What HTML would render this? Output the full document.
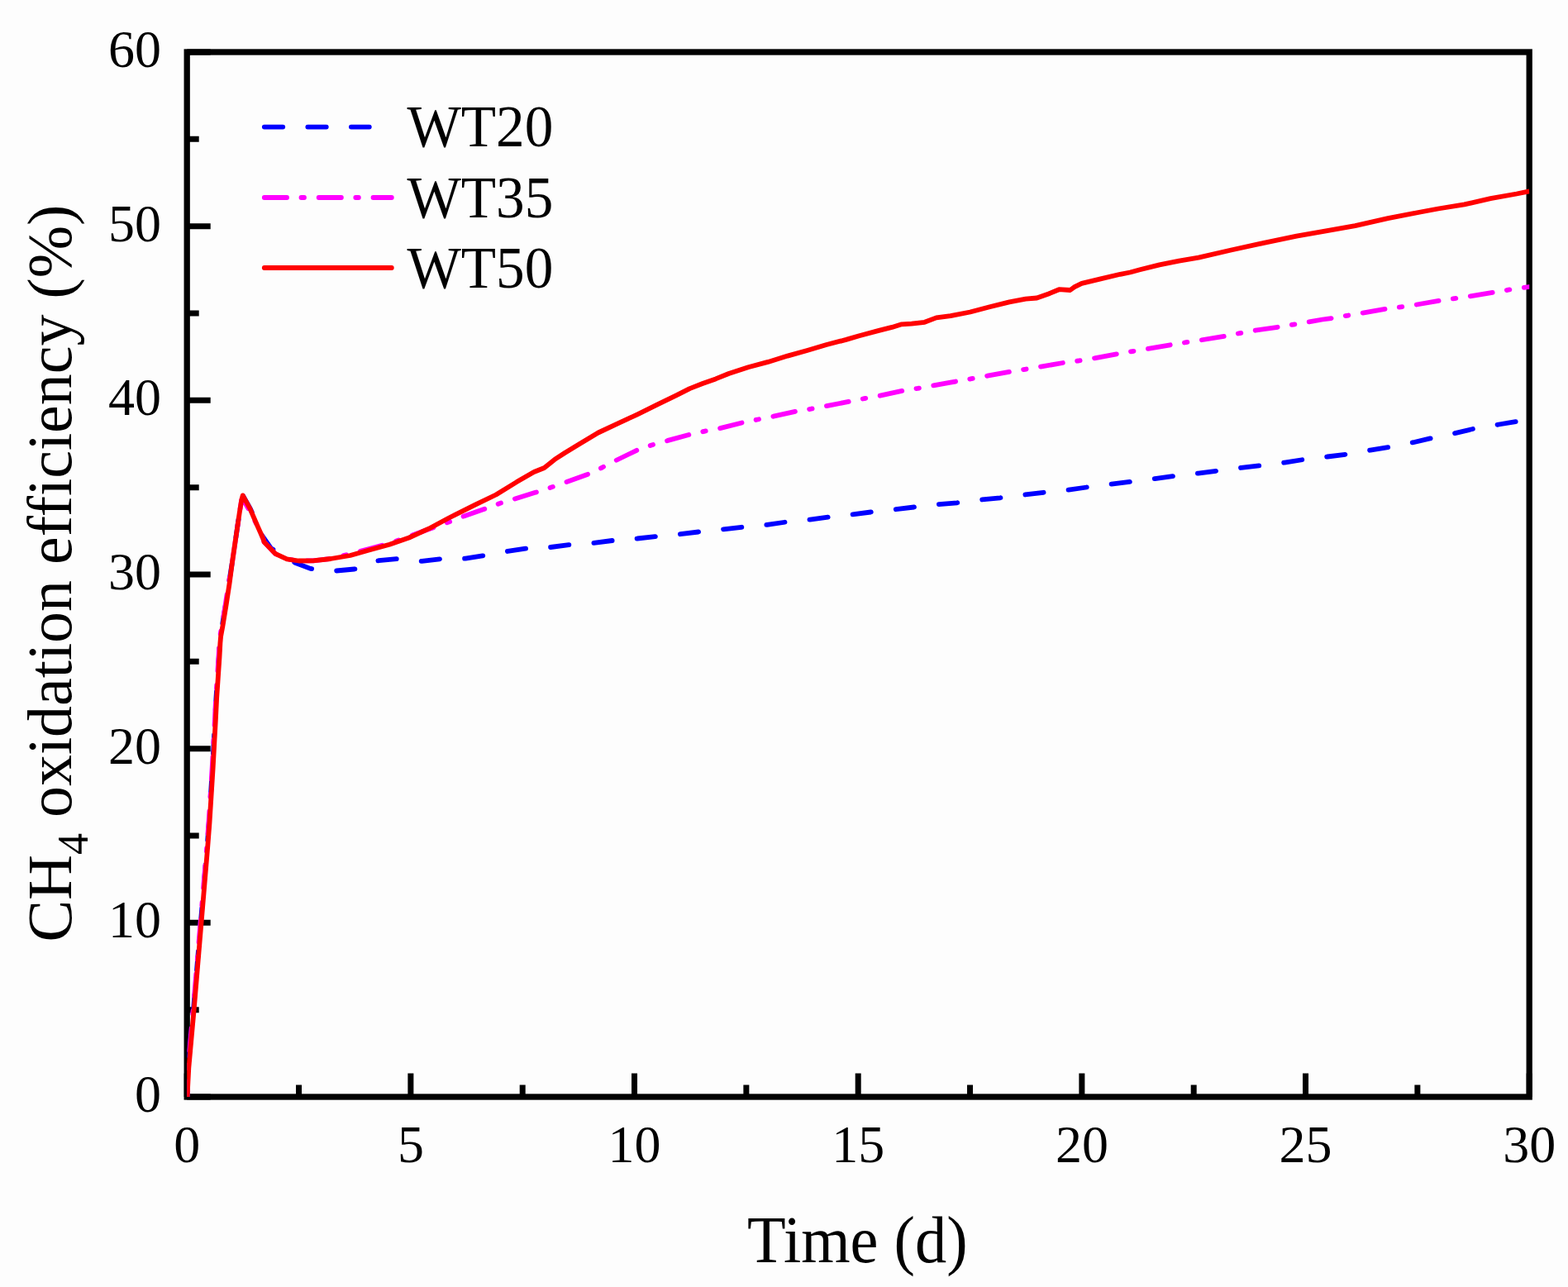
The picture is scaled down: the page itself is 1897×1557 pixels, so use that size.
<!DOCTYPE html>
<html><head><meta charset="utf-8"><title>CH4 oxidation efficiency</title>
<style>
html,body{margin:0;padding:0;background:#fdfdfd;}
body{width:1897px;height:1557px;overflow:hidden;}
svg{display:block;}
text{font-family:"Liberation Serif","Times New Roman",serif;fill:#000;}
</style></head><body>
<svg width="1897" height="1557" viewBox="0 0 1897 1557">
<rect x="0" y="0" width="1897" height="1557" fill="#fdfdfd"/>
<defs><clipPath id="pa"><rect x="226.2" y="63.0" width="1624.0" height="1264.0"/></clipPath></defs>
<path d="M226.2,1327.00h28.5 M226.2,1221.67h14.5 M226.2,1116.33h28.5 M226.2,1011.00h14.5 M226.2,905.67h28.5 M226.2,800.33h14.5 M226.2,695.00h28.5 M226.2,589.67h14.5 M226.2,484.33h28.5 M226.2,379.00h14.5 M226.2,273.67h28.5 M226.2,168.33h14.5 M226.2,63.00h28.5 M226.20,1327.0v-28.5 M361.53,1327.0v-14.5 M496.87,1327.0v-28.5 M632.20,1327.0v-14.5 M767.53,1327.0v-28.5 M902.87,1327.0v-14.5 M1038.20,1327.0v-28.5 M1173.53,1327.0v-14.5 M1308.87,1327.0v-28.5 M1444.20,1327.0v-14.5 M1579.53,1327.0v-28.5 M1714.87,1327.0v-14.5 M1850.20,1327.0v-28.5" stroke="#000" stroke-width="7.0" fill="none"/>
<rect x="226.2" y="63.0" width="1624.0" height="1264.0" fill="none" stroke="#000" stroke-width="7.3"/>
<g clip-path="url(#pa)" fill="none" stroke-linejoin="round" stroke-width="5.8">
<polyline points="226.5,1327.0 227.6,1292.0 234.0,1221.2 242.8,1116.4 250.5,1025.0 252.8,995.2 254.9,961.8 257.0,928.4 258.8,895.0 260.2,870.2 261.4,845.2 263.1,820.1 264.8,795.0 265.7,778.0 266.4,770.0 268.8,757.0 273.0,731.4 276.9,705.7 281.0,680.0 283.7,661.7 286.7,641.1 289.7,620.6 292.2,605.1 293.7,599.4 302.8,615.4 311.8,635.8 315.3,645.2 327.8,663.2 356.9,680.7 375.5,687.9 390.0,690.0 407.0,690.5 428.6,688.5 434.0,688.0 453.0,678.8 458.3,678.2 480.0,676.2 510.5,678.9 532.2,676.3 563.2,675.7 583.8,672.4 614.2,666.9 635.7,663.7 666.2,662.0 688.2,659.1 718.2,656.9 740.6,654.0 771.1,651.5 792.6,649.1 823.1,646.2 845.0,643.5 875.1,640.3 897.0,637.8 928.0,634.9 949.9,631.7 979.9,628.6 1001.9,625.6 1031.5,622.3 1053.5,619.5 1083.9,616.2 1105.9,613.5 1135.9,610.1 1157.8,608.3 1187.9,604.5 1209.9,602.3 1240.3,598.5 1262.3,595.8 1292.8,592.6 1314.7,589.5 1344.8,585.6 1366.7,582.9 1397.2,579.1 1418.7,576.2 1449.6,572.6 1471.1,569.8 1501.6,565.9 1523.2,563.4 1554.1,559.6 1575.6,556.2 1606.0,552.5 1627.5,549.8 1657.7,544.6 1679.3,541.1 1709.8,535.2 1730.3,530.4 1761.3,523.8 1781.7,519.0 1813.3,513.5 1833.8,510.1 1850.2,507.6" stroke="#0000ff" stroke-linecap="round" stroke-dasharray="22.44 30.09" stroke-dashoffset="3.36"/>
<polyline points="226.5,1327.0 227.3,1292.0 233.7,1221.2 242.5,1116.4 250.2,1025.0 252.5,995.2 254.6,961.8 256.7,928.4 258.5,895.0 259.9,870.2 261.1,845.2 262.8,820.1 264.5,795.0 265.4,778.0 266.1,770.0 268.5,757.0 272.7,731.4 276.6,705.7 281.0,680.0 283.7,661.7 286.7,641.1 289.7,620.6 292.2,605.1 293.5,603.0 300.0,614.5 311.4,636.1 318.3,651.5 319.6,655.8 333.0,669.8 347.1,676.4 361.2,678.5 378.9,678.4 400.0,676.0 423.7,670.0 447.4,663.8 471.2,657.3 494.9,649.0 518.6,640.3 541.5,632.1 561.2,624.4 584.7,616.3 604.0,609.2 623.0,603.4 646.8,596.1 666.2,589.8 685.6,583.0 710.6,574.0 727.1,566.3 744.8,557.2 770.6,544.7 788.3,538.5 808.1,532.9 833.5,526.0 852.0,521.8 871.0,518.1 898.2,511.3 916.8,507.5 935.8,503.7 962.3,497.8 981.3,494.7 1000.0,491.1 1026.9,485.9 1045.6,482.1 1064.8,478.7 1091.7,472.8 1110.1,469.9 1128.9,466.5 1150.0,462.6 1175.3,458.2 1194.7,454.7 1221.2,449.9 1240.1,446.8 1259.1,443.6 1286.4,438.9 1304.9,436.5 1324.1,433.4 1351.4,428.2 1369.7,425.1 1389.0,421.9 1416.2,417.2 1434.8,414.2 1453.6,411.3 1481.2,406.8 1499.8,403.1 1518.8,399.7 1546.1,395.7 1564.8,392.6 1583.6,389.4 1600.0,386.5 1611.1,385.0 1629.7,381.8 1648.6,378.6 1675.9,373.9 1694.9,371.4 1713.9,368.5 1741.1,363.8 1759.7,361.1 1778.6,358.3 1806.4,353.8 1824.8,350.7 1850.2,347.0" stroke="#ff00ff" stroke-linecap="round" stroke-dasharray="27.24 17.42 3.53 17.66" stroke-dashoffset="9.76"/>
<polyline points="226.5,1327.0 228.3,1292.0 234.7,1221.2 243.5,1116.4 251.2,1025.0 253.5,995.2 255.6,961.8 257.7,928.4 259.5,895.0 260.9,870.2 262.1,845.2 263.8,820.1 265.5,795.0 266.4,778.0 267.1,770.0 269.5,757.0 273.7,731.4 277.6,705.7 281.0,680.0 283.7,661.7 286.7,641.1 289.7,620.6 292.2,605.1 293.7,599.4 302.6,615.6 311.4,636.1 318.3,651.5 319.6,655.8 333.0,669.8 347.1,676.4 361.2,678.5 378.9,678.4 400.0,676.0 423.7,672.0 447.4,665.3 471.2,658.8 494.9,650.5 518.6,639.7 542.3,627.0 550.0,623.2 575.0,610.6 600.1,598.5 625.1,583.1 646.0,571.0 658.5,566.0 671.0,555.9 683.6,547.7 700.0,537.8 723.7,523.5 747.4,512.4 771.2,501.3 794.9,489.7 818.6,478.2 834.4,470.1 850.0,464.0 865.8,458.4 881.6,452.0 905.3,444.2 929.1,437.9 952.8,430.6 976.5,424.0 1000.0,417.0 1023.7,410.9 1039.5,406.2 1063.3,399.9 1079.1,395.9 1090.9,392.3 1102.8,391.6 1118.6,389.8 1132.8,384.4 1150.0,382.2 1173.7,377.5 1197.4,371.2 1221.2,365.4 1240.9,361.7 1254.4,360.5 1268.6,355.5 1281.3,350.2 1294.7,351.0 1300.0,347.2 1308.7,342.9 1331.6,337.4 1355.3,331.8 1367.2,329.5 1379.1,326.3 1402.8,320.4 1426.5,315.6 1450.0,311.6 1489.5,302.5 1529.1,293.8 1568.6,285.7 1600.0,280.2 1639.5,273.1 1679.1,264.2 1718.6,256.5 1740.0,252.5 1771.6,247.4 1803.3,240.2 1834.9,234.5 1850.2,231.3" stroke="#ff0000" stroke-linecap="butt"/>
</g>
<text x="195" y="1345.0" font-size="64" text-anchor="end">0</text>
<text x="195" y="1134.3" font-size="64" text-anchor="end">10</text>
<text x="195" y="923.7" font-size="64" text-anchor="end">20</text>
<text x="195" y="713.0" font-size="64" text-anchor="end">30</text>
<text x="195" y="502.3" font-size="64" text-anchor="end">40</text>
<text x="195" y="291.7" font-size="64" text-anchor="end">50</text>
<text x="195" y="81.0" font-size="64" text-anchor="end">60</text>
<text x="226.2" y="1406.3" font-size="64" text-anchor="middle">0</text>
<text x="496.9" y="1406.3" font-size="64" text-anchor="middle">5</text>
<text x="767.5" y="1406.3" font-size="64" text-anchor="middle">10</text>
<text x="1038.2" y="1406.3" font-size="64" text-anchor="middle">15</text>
<text x="1308.9" y="1406.3" font-size="64" text-anchor="middle">20</text>
<text x="1579.5" y="1406.3" font-size="64" text-anchor="middle">25</text>
<text x="1850.2" y="1406.3" font-size="64" text-anchor="middle">30</text>
<text transform="translate(1037.3,1527) scale(0.955,1)" font-size="80" text-anchor="middle">Time (d)</text>
<text transform="translate(86,1139.6) rotate(-90)" font-size="76">CH<tspan font-size="52" dy="20">4</tspan><tspan dy="-20"> oxidation efficiency (%)</tspan></text>
<line x1="319.8" y1="153.6" x2="446.8" y2="153.6" stroke="#0000ff" stroke-width="5.8" stroke-linecap="round" stroke-dasharray="22.44 30.09"/>
<text transform="translate(492.5,177.2) scale(0.975,1)" font-size="71">WT20</text>
<line x1="319.8" y1="239" x2="473.8" y2="239" stroke="#ff00ff" stroke-width="5.8" stroke-linecap="round" stroke-dasharray="27.24 17.42 3.53 17.66"/>
<text transform="translate(492.5,262.6) scale(0.975,1)" font-size="71">WT35</text>
<line x1="319.8" y1="324" x2="473.8" y2="324" stroke="#ff0000" stroke-width="5.8" stroke-linecap="round"/>
<text transform="translate(492.5,347.6) scale(0.975,1)" font-size="71">WT50</text>
</svg>
</body></html>
